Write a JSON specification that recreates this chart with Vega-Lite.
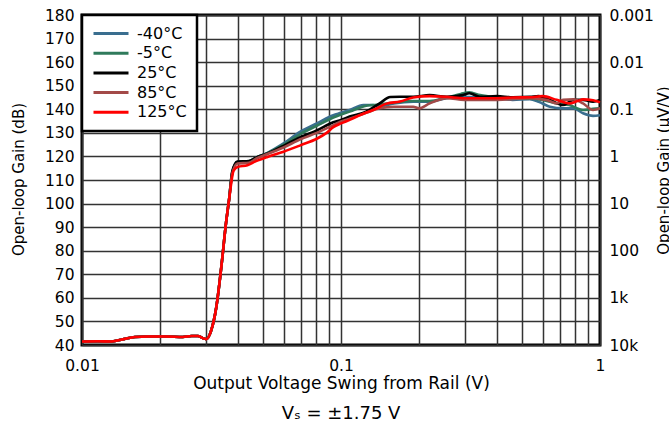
{
  "$schema": "https://vega.github.io/schema/vega-lite/v6.json",
  "width": 518,
  "height": 330,
  "autosize": {"type": "none"},
  "padding": {"left": 82, "top": 15, "right": 69, "bottom": 99},
  "background": "white",
  "config": {
    "font": "DejaVu Sans",
    "view": {"stroke": "black", "strokeWidth": 3},
    "axis": {"labelColor": "black", "titleColor": "black", "titleFontWeight": "normal", "labelFont": "DejaVu Sans", "titleFont": "DejaVu Sans"},
    "legend": {"orient": "top-left", "offset": 0, "padding": 10, "strokeColor": "black", "strokeWidth": 2.5, "fillColor": "white", "symbolType": "M-1,0H4", "symbolSize": 196, "symbolStrokeWidth": 3, "labelFontSize": 16, "labelFont": "DejaVu Sans", "labelColor": "black", "rowPadding": 2.7, "labelOffset": 28, "zindex": 2}
  },
  "title": {"text": "Vₛ = ±1.75 V", "orient": "bottom", "anchor": "middle", "fontSize": 18, "fontWeight": "normal", "font": "DejaVu Sans", "color": "black", "offset": 13},
  "data": {"values": [
    {"s":"-40°C","x":0.01,"y":41.5},{"s":"-40°C","x":0.0115,"y":41.6},{"s":"-40°C","x":0.013,"y":41.5},{"s":"-40°C","x":0.0145,"y":42.5},{"s":"-40°C","x":0.016,"y":43.4},{"s":"-40°C","x":0.018,"y":43.6},{"s":"-40°C","x":0.021,"y":43.6},{"s":"-40°C","x":0.0245,"y":43.4},{"s":"-40°C","x":0.0265,"y":43.8},{"s":"-40°C","x":0.028,"y":43.8},{"s":"-40°C","x":0.0295,"y":42.8},{"s":"-40°C","x":0.0302,"y":42.5},{"s":"-40°C","x":0.0315,"y":46},{"s":"-40°C","x":0.033,"y":56},{"s":"-40°C","x":0.0345,"y":73},{"s":"-40°C","x":0.036,"y":92},{"s":"-40°C","x":0.037,"y":102},
    {"s":"-40°C","x":0.038,"y":113},{"s":"-40°C","x":0.0398,"y":117.6},{"s":"-40°C","x":0.044,"y":117.8},{"s":"-40°C","x":0.047,"y":119.5},{"s":"-40°C","x":0.052,"y":121.5},{"s":"-40°C","x":0.06,"y":125.5},{"s":"-40°C","x":0.0697,"y":130.5},{"s":"-40°C","x":0.0806,"y":134},{"s":"-40°C","x":0.0934,"y":137.5},{"s":"-40°C","x":0.1,"y":138.5},{"s":"-40°C","x":0.108,"y":139.7},{"s":"-40°C","x":0.122,"y":141.8},{"s":"-40°C","x":0.133,"y":141.8},{"s":"-40°C","x":0.141,"y":141.3},{"s":"-40°C","x":0.16,"y":142.5},{"s":"-40°C","x":0.19,"y":143.2},{"s":"-40°C","x":0.22,"y":143.2},{"s":"-40°C","x":0.256,"y":144.7},{"s":"-40°C","x":0.295,"y":145.3},{"s":"-40°C","x":0.344,"y":145},{"s":"-40°C","x":0.4,"y":144.7},{"s":"-40°C","x":0.46,"y":144},{"s":"-40°C","x":0.536,"y":144.3},{"s":"-40°C","x":0.58,"y":143.2},{"s":"-40°C","x":0.64,"y":141.1},{"s":"-40°C","x":0.72,"y":140.4},{"s":"-40°C","x":0.79,"y":140.4},{"s":"-40°C","x":0.86,"y":138.3},{"s":"-40°C","x":0.94,"y":137.2},{"s":"-40°C","x":1.0,"y":137.5},

    {"s":"-5°C","x":0.01,"y":41.5},{"s":"-5°C","x":0.0115,"y":41.6},{"s":"-5°C","x":0.013,"y":41.5},{"s":"-5°C","x":0.0145,"y":42.5},{"s":"-5°C","x":0.016,"y":43.4},{"s":"-5°C","x":0.018,"y":43.6},{"s":"-5°C","x":0.021,"y":43.6},{"s":"-5°C","x":0.0245,"y":43.4},{"s":"-5°C","x":0.0265,"y":43.8},{"s":"-5°C","x":0.028,"y":43.8},{"s":"-5°C","x":0.0295,"y":42.8},{"s":"-5°C","x":0.0302,"y":42.5},{"s":"-5°C","x":0.0315,"y":46},{"s":"-5°C","x":0.033,"y":56},{"s":"-5°C","x":0.0345,"y":73},{"s":"-5°C","x":0.036,"y":92},{"s":"-5°C","x":0.037,"y":102},
    {"s":"-5°C","x":0.038,"y":113},{"s":"-5°C","x":0.0398,"y":117.6},{"s":"-5°C","x":0.044,"y":117.9},{"s":"-5°C","x":0.047,"y":119.5},{"s":"-5°C","x":0.052,"y":121.4},{"s":"-5°C","x":0.06,"y":125},{"s":"-5°C","x":0.0697,"y":129.5},{"s":"-5°C","x":0.0806,"y":133},{"s":"-5°C","x":0.0934,"y":136.5},{"s":"-5°C","x":0.1,"y":137.8},{"s":"-5°C","x":0.108,"y":139},{"s":"-5°C","x":0.125,"y":141.5},{"s":"-5°C","x":0.141,"y":142},{"s":"-5°C","x":0.16,"y":142.8},{"s":"-5°C","x":0.19,"y":143.5},{"s":"-5°C","x":0.22,"y":143.5},{"s":"-5°C","x":0.256,"y":145},{"s":"-5°C","x":0.29,"y":146.5},{"s":"-5°C","x":0.313,"y":147.2},{"s":"-5°C","x":0.344,"y":146},{"s":"-5°C","x":0.4,"y":145},{"s":"-5°C","x":0.46,"y":144.5},{"s":"-5°C","x":0.536,"y":144.5},{"s":"-5°C","x":0.6,"y":144},{"s":"-5°C","x":0.68,"y":142.5},{"s":"-5°C","x":0.76,"y":141.8},{"s":"-5°C","x":0.86,"y":139.7},{"s":"-5°C","x":0.94,"y":140.2},{"s":"-5°C","x":1.0,"y":140.4},

    {"s":"25°C","x":0.01,"y":41.5},{"s":"25°C","x":0.0115,"y":41.6},{"s":"25°C","x":0.013,"y":41.5},{"s":"25°C","x":0.0145,"y":42.5},{"s":"25°C","x":0.016,"y":43.4},{"s":"25°C","x":0.018,"y":43.6},{"s":"25°C","x":0.021,"y":43.6},{"s":"25°C","x":0.0245,"y":43.4},{"s":"25°C","x":0.0265,"y":43.8},{"s":"25°C","x":0.028,"y":43.8},{"s":"25°C","x":0.0295,"y":42.8},{"s":"25°C","x":0.0302,"y":42.5},{"s":"25°C","x":0.0315,"y":46},{"s":"25°C","x":0.033,"y":56},{"s":"25°C","x":0.0345,"y":73},{"s":"25°C","x":0.036,"y":92},{"s":"25°C","x":0.037,"y":102},
    {"s":"25°C","x":0.038,"y":113.5},{"s":"25°C","x":0.0398,"y":117.8},{"s":"25°C","x":0.044,"y":118},{"s":"25°C","x":0.047,"y":119.5},{"s":"25°C","x":0.052,"y":121.3},{"s":"25°C","x":0.06,"y":124.5},{"s":"25°C","x":0.0697,"y":128.2},{"s":"25°C","x":0.0806,"y":131},{"s":"25°C","x":0.0934,"y":134.5},{"s":"25°C","x":0.1,"y":135.5},{"s":"25°C","x":0.108,"y":136.9},{"s":"25°C","x":0.125,"y":139},{"s":"25°C","x":0.141,"y":142.5},{"s":"25°C","x":0.155,"y":145.2},{"s":"25°C","x":0.169,"y":145.3},{"s":"25°C","x":0.19,"y":145.3},{"s":"25°C","x":0.22,"y":146},{"s":"25°C","x":0.256,"y":145.3},{"s":"25°C","x":0.295,"y":146},{"s":"25°C","x":0.313,"y":146.8},{"s":"25°C","x":0.344,"y":145.3},{"s":"25°C","x":0.4,"y":145.6},{"s":"25°C","x":0.46,"y":145.1},{"s":"25°C","x":0.536,"y":145.3},{"s":"25°C","x":0.58,"y":145.6},{"s":"25°C","x":0.64,"y":144},{"s":"25°C","x":0.72,"y":141.8},{"s":"25°C","x":0.79,"y":144},{"s":"25°C","x":0.86,"y":144},{"s":"25°C","x":0.94,"y":143.2},{"s":"25°C","x":1.0,"y":144},

    {"s":"85°C","x":0.01,"y":41.5},{"s":"85°C","x":0.0115,"y":41.6},{"s":"85°C","x":0.013,"y":41.5},{"s":"85°C","x":0.0145,"y":42.5},{"s":"85°C","x":0.016,"y":43.4},{"s":"85°C","x":0.018,"y":43.6},{"s":"85°C","x":0.021,"y":43.6},{"s":"85°C","x":0.0245,"y":43.4},{"s":"85°C","x":0.0265,"y":43.8},{"s":"85°C","x":0.028,"y":43.8},{"s":"85°C","x":0.0295,"y":42.8},{"s":"85°C","x":0.0302,"y":42.5},{"s":"85°C","x":0.0315,"y":46},{"s":"85°C","x":0.033,"y":56},{"s":"85°C","x":0.0345,"y":73},{"s":"85°C","x":0.036,"y":92},{"s":"85°C","x":0.037,"y":102},
    {"s":"85°C","x":0.038,"y":112.5},{"s":"85°C","x":0.0398,"y":117},{"s":"85°C","x":0.044,"y":117.3},{"s":"85°C","x":0.047,"y":119},{"s":"85°C","x":0.052,"y":121},{"s":"85°C","x":0.06,"y":123.8},{"s":"85°C","x":0.0697,"y":127.3},{"s":"85°C","x":0.0806,"y":130},{"s":"85°C","x":0.0934,"y":133.3},{"s":"85°C","x":0.1,"y":134.8},{"s":"85°C","x":0.108,"y":136},{"s":"85°C","x":0.125,"y":138.5},{"s":"85°C","x":0.141,"y":140.4},{"s":"85°C","x":0.16,"y":141.1},{"s":"85°C","x":0.19,"y":141.1},{"s":"85°C","x":0.2,"y":140.4},{"s":"85°C","x":0.22,"y":142.5},{"s":"85°C","x":0.256,"y":144.7},{"s":"85°C","x":0.3,"y":144},{"s":"85°C","x":0.4,"y":144},{"s":"85°C","x":0.536,"y":144.7},{"s":"85°C","x":0.62,"y":144},{"s":"85°C","x":0.68,"y":142.5},{"s":"85°C","x":0.72,"y":144},{"s":"85°C","x":0.79,"y":144.2},{"s":"85°C","x":0.86,"y":142.5},{"s":"85°C","x":0.94,"y":139.7},{"s":"85°C","x":1.0,"y":140.4},

    {"s":"125°C","x":0.01,"y":41.5},{"s":"125°C","x":0.0115,"y":41.6},{"s":"125°C","x":0.013,"y":41.5},{"s":"125°C","x":0.0145,"y":42.5},{"s":"125°C","x":0.016,"y":43.4},{"s":"125°C","x":0.018,"y":43.6},{"s":"125°C","x":0.021,"y":43.6},{"s":"125°C","x":0.0245,"y":43.4},{"s":"125°C","x":0.0265,"y":43.8},{"s":"125°C","x":0.028,"y":43.8},{"s":"125°C","x":0.0295,"y":42.8},{"s":"125°C","x":0.0302,"y":42.5},{"s":"125°C","x":0.0315,"y":46},{"s":"125°C","x":0.033,"y":56},{"s":"125°C","x":0.0345,"y":73},{"s":"125°C","x":0.036,"y":92},{"s":"125°C","x":0.037,"y":102},
    {"s":"125°C","x":0.0385,"y":114},{"s":"125°C","x":0.04,"y":115.6},{"s":"125°C","x":0.0435,"y":116.3},{"s":"125°C","x":0.047,"y":118},{"s":"125°C","x":0.052,"y":119.8},{"s":"125°C","x":0.06,"y":122},{"s":"125°C","x":0.07,"y":124.8},{"s":"125°C","x":0.0806,"y":127.5},{"s":"125°C","x":0.088,"y":130},{"s":"125°C","x":0.0934,"y":132.4},{"s":"125°C","x":0.1,"y":134},{"s":"125°C","x":0.108,"y":135.5},{"s":"125°C","x":0.12,"y":137.8},{"s":"125°C","x":0.133,"y":139.7},{"s":"125°C","x":0.15,"y":142.4},{"s":"125°C","x":0.169,"y":143.3},{"s":"125°C","x":0.19,"y":145},{"s":"125°C","x":0.22,"y":145.6},{"s":"125°C","x":0.256,"y":145.3},{"s":"125°C","x":0.3,"y":144.7},{"s":"125°C","x":0.344,"y":144.7},{"s":"125°C","x":0.4,"y":144.7},{"s":"125°C","x":0.46,"y":145},{"s":"125°C","x":0.536,"y":145.1},{"s":"125°C","x":0.6,"y":145.6},{"s":"125°C","x":0.68,"y":144},{"s":"125°C","x":0.76,"y":142.5},{"s":"125°C","x":0.82,"y":143.5},{"s":"125°C","x":0.86,"y":144.2},{"s":"125°C","x":0.94,"y":143.8},{"s":"125°C","x":1.0,"y":143}
  ]},
  "layer": [
    {
      "mark": {"type": "line", "interpolate": "monotone", "strokeWidth": 2.6},
      "encoding": {
        "x": {"field": "x", "type": "quantitative",
          "scale": {"type": "log", "domain": [0.01, 1], "nice": false},
          "axis": {"values": [0.01,0.02,0.03,0.04,0.05,0.06,0.07,0.08,0.09,0.1,0.2,0.3,0.4,0.5,0.6,0.7,0.8,0.9,1],
            "labelExpr": "datum.value == 0.01 || datum.value == 0.1 || datum.value == 1 ? datum.label : ''",
            "format": "~g", "labelOverlap": false, "labelFlush": false, "labelFontSize": 15.5, "labelPadding": 13,
            "ticks": false, "tickSize": 0, "domain": false, "grid": true, "gridColor": "#333333", "gridWidth": 1.5,
            "title": "Output Voltage Swing from Rail (V)", "titleFontSize": 17, "titlePadding": 2}},
        "y": {"field": "y", "type": "quantitative",
          "scale": {"domain": [40, 180], "nice": false, "zero": false},
          "axis": {"values": [40,50,60,70,80,90,100,110,120,130,140,150,160,170,180],
            "labelFontSize": 15.5, "labelPadding": 8, "ticks": false, "tickSize": 0, "domain": false,
            "grid": true, "gridColor": "#333333", "gridWidth": 1.5, "labelOverlap": false,
            "title": "Open-loop Gain (dB)", "titleFontSize": 15, "titleX": -64, "titleY": 164, "titleAngle": 270,
            "titleAlign": "center", "titleBaseline": "middle"}},
        "color": {"field": "s", "type": "nominal", "title": null,
          "scale": {"domain": ["-40°C", "-5°C", "25°C", "85°C", "125°C"],
                    "range": ["#3a6e8f", "#2f7a5b", "#000000", "#a34a48", "#ff0000"]},
          "sort": ["-40°C", "-5°C", "25°C", "85°C", "125°C"]}
      }
    },
    {
      "mark": {"type": "line", "opacity": 0},
      "encoding": {
        "x": {"field": "x", "type": "quantitative", "scale": {"type": "log", "domain": [0.01, 1], "nice": false}},
        "y": {"field": "y", "type": "quantitative",
          "scale": {"domain": [40, 180], "nice": false, "zero": false},
          "axis": {"orient": "right", "values": [40,60,80,100,120,140,160,180],
            "labelExpr": "datum.value == 180 ? '0.001' : datum.value == 160 ? '0.01' : datum.value == 140 ? '0.1' : datum.value == 120 ? '1' : datum.value == 100 ? '10' : datum.value == 80 ? '100' : datum.value == 60 ? '1k' : '10k'",
            "labelFontSize": 15.5, "labelPadding": 9, "labelAlign": "left", "ticks": false, "tickSize": 0, "domain": false, "grid": false, "labelOverlap": false,
            "title": "Open-loop Gain (µV/V)", "titleFontSize": 15, "titleX": 63, "titleY": 155, "titleAngle": 270,
            "titleAlign": "center", "titleBaseline": "middle"}},
        "detail": {"field": "s"}
      }
    }
  ],
  "resolve": {"scale": {"y": "independent"}}
}
